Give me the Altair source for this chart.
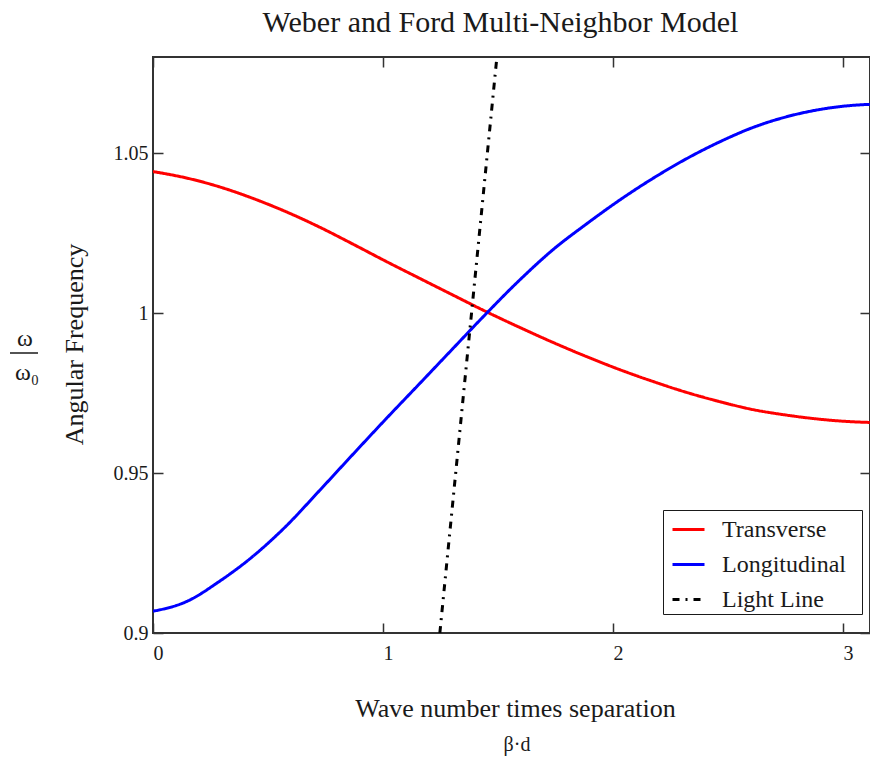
import altair as alt
import pandas as pd

# ---- data ----
beta_d_transverse = [0, 0.145, 0.29, 0.435, 0.58, 0.725, 0.87, 1.014, 1.16, 1.304, 1.449, 1.594,
                     1.739, 1.884, 2.029, 2.174, 2.319, 2.464, 2.609, 2.753, 2.899, 3.043, 3.116]
omega_transverse = [1.0442, 1.0422, 1.0394, 1.0358, 1.0316, 1.0268, 1.0215, 1.0161, 1.0108, 1.0056,
                    1.0004, 0.9955, 0.9908, 0.9864, 0.9823, 0.9786, 0.9752, 0.9723, 0.9698, 0.9681,
                    0.9668, 0.9660, 0.9658]

beta_d_longitudinal = [0, 0.145, 0.29, 0.435, 0.58, 0.725, 0.87, 1.014, 1.16, 1.304, 1.427, 1.594,
                       1.739, 1.884, 2.029, 2.174, 2.319, 2.464, 2.609, 2.753, 2.899, 3.043, 3.116]
omega_longitudinal = [0.9068, 0.9098, 0.9162, 0.9240, 0.9335, 0.9446, 0.9559, 0.9670, 0.9780, 0.9889,
                      0.9982, 1.0103, 1.0198, 1.0278, 1.0353, 1.0421, 1.0482, 1.0535, 1.0580, 1.0613,
                      1.0636, 1.0649, 1.0652]

beta_d_light = [1.247, 1.495]
omega_light = [0.90, 1.08]

series_names = ["Transverse", "Longitudinal", "Light Line"]
series_colors = ["#ff0000", "#0000ff", "#000000"]
series_dashes = [[1, 0], [1, 0], [7, 6, 2, 6]]

x_ticks = [0, 1, 2, 3]
y_ticks = [0.9, 0.95, 1.0, 1.05]

FONT = "Liberation Serif"
INK = "#1a1a1a"

frames = []
for name, xs, ys in [("Transverse", beta_d_transverse, omega_transverse),
                     ("Longitudinal", beta_d_longitudinal, omega_longitudinal),
                     ("Light Line", beta_d_light, omega_light)]:
    frames.append(pd.DataFrame({"x": xs, "y": ys, "series": name, "order": range(len(xs))}))
df = pd.concat(frames, ignore_index=True)

x_axis = alt.Axis(values=x_ticks, format="d", labelAlign="left", labelFont=FONT, labelFontSize=20,
                  labelColor=INK, labelPadding=10, labelFlush=False, labelOverlap=False,
                  ticks=False, domain=False, grid=True, gridDash=[10, 556], gridColor="#333333",
                  gridWidth=1.5, title="Wave number times separation", titleFont=FONT,
                  titleFontSize=26, titleFontWeight="normal", titleColor=INK,
                  titleX=362, titleY=83, titleBaseline="alphabetic", titleAlign="center")

y_axis = alt.Axis(values=y_ticks, format="~g", labelFont=FONT, labelFontSize=20,
                  labelColor=INK, labelPadding=5, labelBaseline="middle", labelFlush=False,
                  labelOverlap=False, ticks=False, domain=False, grid=True, gridDash=[10, 697],
                  gridColor="#333333", gridWidth=1.5, title="Angular Frequency", titleFont=FONT,
                  titleFontSize=26, titleFontWeight="normal", titleColor=INK,
                  titleAngle=270, titleX=-71, titleY=287, titleBaseline="alphabetic",
                  titleAlign="center")

legend_spec = dict(title="\u00a0", titleOrient="right", titleFontSize=24, titlePadding=14,
                   titleFont=FONT)

lines = alt.Chart(df).mark_line(strokeWidth=3, clip=True, interpolate="monotone").encode(
    x=alt.X("x:Q", scale=alt.Scale(domain=[0, 3.117], nice=False, zero=False), axis=x_axis),
    y=alt.Y("y:Q", scale=alt.Scale(domain=[0.9, 1.08], nice=False, zero=False), axis=y_axis),
    color=alt.Color("series:N", scale=alt.Scale(domain=series_names, range=series_colors),
                    legend=alt.Legend(**legend_spec)),
    strokeDash=alt.StrokeDash("series:N", scale=alt.Scale(domain=series_names, range=series_dashes),
                              legend=alt.Legend(**legend_spec)),
    order="order:Q",
)

# y-axis expression: omega over omega_0 (stacked fraction)
omega_top = alt.Chart(pd.DataFrame({"t": ["ω"]})).mark_text(
    font=FONT, fontSize=24, color=INK, baseline="alphabetic", align="center"
).encode(x=alt.value(-128), y=alt.value(289), text="t:N")

fraction_bar = alt.Chart(pd.DataFrame({"t": [0]})).mark_rule(
    color=INK, strokeWidth=1.5
).encode(x=alt.value(-143), x2=alt.value(-115), y=alt.value(296), y2=alt.value(296))

omega_bottom = alt.Chart(pd.DataFrame({"t": ["ω₀"]})).mark_text(
    font=FONT, fontSize=24, color=INK, baseline="alphabetic", align="center"
).encode(x=alt.value(-126), y=alt.value(323), text="t:N")

beta_label = alt.Chart(pd.DataFrame({"t": ["β·d"]})).mark_text(
    font=FONT, fontSize=20, color=INK, baseline="alphabetic", align="center"
).encode(x=alt.value(364), y=alt.value(694), text="t:N")

chart = alt.layer(lines, omega_top, fraction_bar, omega_bottom, beta_label).properties(
    width=717,
    height=576,
    title=alt.TitleParams("Weber and Ford Multi-Neighbor Model", font=FONT, fontSize=30,
                          fontWeight="normal", color=INK, anchor="middle", frame="group",
                          baseline="alphabetic", offset=24, dx=-11, dy=29),
    autosize=alt.AutoSizeParams(type="none"),
    padding={"left": 153, "top": 57, "right": 0, "bottom": 127},
).configure_view(
    stroke="#333333", strokeWidth=2
).configure_legend(
    orient="none", legendX=510, legendY=453, symbolType="stroke", symbolSize=1024,
    symbolStrokeWidth=3, symbolOffset=6, rowPadding=5, labelFont=FONT, labelFontSize=24,
    labelColor=INK, labelOffset=16, strokeColor=INK, fillColor="white", padding=2,
    cornerRadius=0,
)

chart.save("out.html", embed_options={"renderer": "svg", "actions": False})
